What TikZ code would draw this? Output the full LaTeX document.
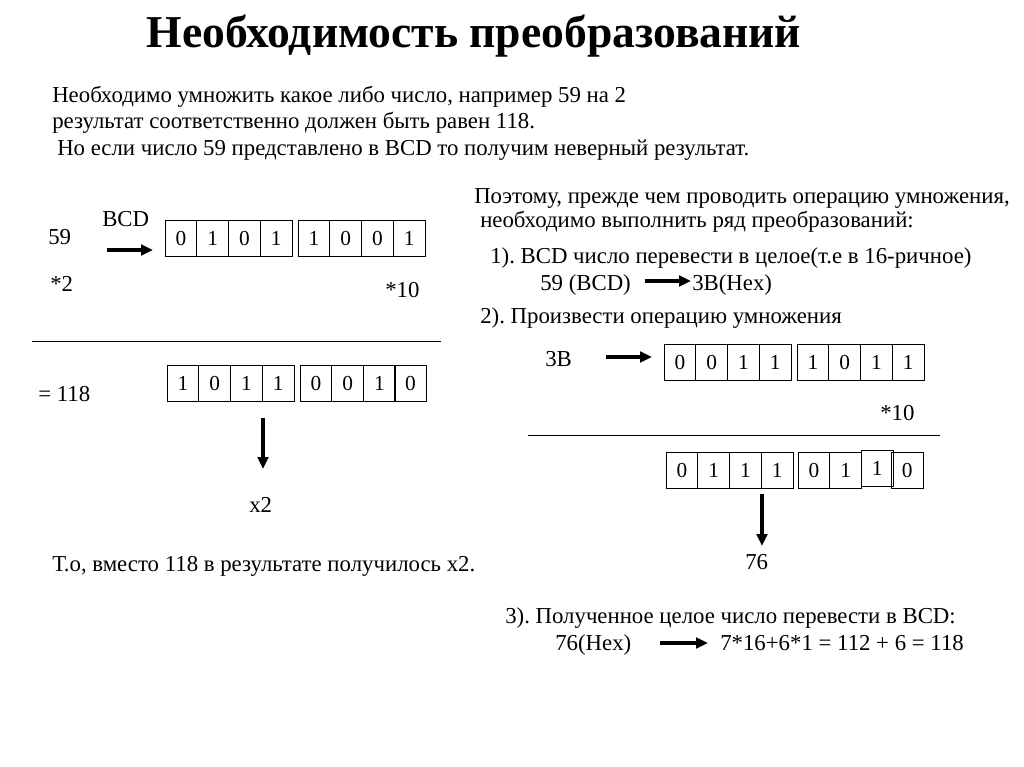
\documentclass[tikz,border=0pt]{standalone}
\usepackage{fontspec}
\setmainfont{Liberation Serif}
\usetikzlibrary{arrows.meta}
\frenchspacing
\tikzset{
  cell/.style={draw, line width=0.6pt, minimum width=23.8pt, minimum height=27pt, inner sep=0pt, text height=10.8pt, text depth=0pt, font=\fontsize{16}{18}\selectfont},
  txt/.style={anchor=west, inner sep=0pt, text height=12.3pt, text depth=3.6pt, font=\fontsize{17.1}{19}\selectfont},
  arr/.style={-{Triangle[length=9pt,width=8pt]}, line width=2.6pt},
}
\begin{document}
\begin{tikzpicture}[x=0.75pt,y=-0.75pt]
\useasboundingbox (0,0) rectangle (1024,767);
% title and intro
\node[font=\bfseries\fontsize{34.2}{37}\selectfont] (title) at (474,36) {Необходимость преобразований};
\node[txt] (l1) at (52,97) {Необходимо умножить какое либо число, например 59 на 2};
\node[txt] (l2) at (52,123) {результат соответственно должен быть равен 118.};
\node[txt] (l3) at (57,150) {Но если число 59 представлено в BCD то получим неверный результат.};
% left part
\node[txt] (n59) at (48,239) {59};
\node[txt] (bcd) at (102,221) {BCD};
\coordinate (p1) at (107,250);
\coordinate (p2) at (153,250);
\draw[arr] (p1) -- (p2);
\foreach \b [count=\i] in {0,1,0,1} \node[cell] (a\i) at ({165+15.9+(\i-1)*31.75},238) {\b};
\foreach \b [count=\i] in {1,0,0,1} \node[cell] (b\i) at ({298+15.9+(\i-1)*31.75},238) {\b};
\node[txt] (m2) at (50,286) {*2};
\node[txt] (m10) at (385,292) {*10};
\coordinate (h1) at (32,341);
\coordinate (h2) at (441,341);
\draw[line width=0.6pt] (h1) -- (h2);
\node[txt] (res) at (38,396) {= 118};
\foreach \b [count=\i] in {1,0,1,1} \node[cell] (c\i) at ({167+15.9+(\i-1)*31.75},383) {\b};
\foreach \b [count=\i] in {0,0,1} \node[cell] (d\i) at ({300+15.9+(\i-1)*31.75},383) {\b};
\node[cell] (d4) at (410.5,383) {0};
\coordinate (q1) at (263,418);
\coordinate (q2) at (263,469);
\draw[arr] (q1) -- (q2);
\node[txt] (x2) at (249,507) {x2};
\node[txt] (concl) at (52,566) {Т.о, вместо 118 в результате получилось x2.};
% right part
\node[txt] (r1) at (474,198) {Поэтому, прежде чем проводить операцию умножения,};
\node[txt] (r2) at (480,222) {необходимо выполнить ряд преобразований:};
\node[txt] (s1) at (490,258) {1). BCD число перевести в целое(т.е в 16-ричное)};
\node[txt] (s1a) at (540,285) {59 (BCD)};
\node[txt] (s1b) at (692,285) {3B(Hex)};
\coordinate (u1) at (645,281);
\coordinate (u2) at (691,281);
\draw[arr] (u1) -- (u2);
\node[txt] (s2) at (480,318) {2). Произвести операцию умножения};
\node[txt] (n3b) at (545,361) {3B};
\coordinate (v1) at (606,357);
\coordinate (v2) at (652,357);
\draw[arr] (v1) -- (v2);
\foreach \b [count=\i] in {0,0,1,1} \node[cell] (e\i) at ({664+15.9+(\i-1)*31.75},362) {\b};
\foreach \b [count=\i] in {1,0,1,1} \node[cell] (f\i) at ({797+15.9+(\i-1)*31.75},362) {\b};
\node[txt] (r10) at (880,415) {*10};
\coordinate (k1) at (528,435);
\coordinate (k2) at (940,435);
\draw[line width=0.6pt] (k1) -- (k2);
\foreach \b [count=\i] in {0,1,1,1} \node[cell] (g\i) at ({666+15.9+(\i-1)*31.75},470) {\b};
\foreach \b [count=\i] in {0,1} \node[cell] (h\i) at ({798+15.9+(\i-1)*31.75},470) {\b};
\node[cell] (h3) at (877.3,468.5) {1};
\node[cell] (h4) at (907.1,470) {0};
\coordinate (w1) at (762,494);
\coordinate (w2) at (762,546);
\draw[arr] (w1) -- (w2);
\node[txt] (n76) at (745,564) {76};
\node[txt] (s3) at (505,618) {3). Полученное целое число перевести в BCD:};
\node[txt] (s3a) at (555,645) {76(Hex)};
\coordinate (z1) at (660,643);
\coordinate (z2) at (708,643);
\draw[arr] (z1) -- (z2);
\node[txt] (s3b) at (720,645) {7*16+6*1 = 112 + 6 = 118};
\end{tikzpicture}
\end{document}
